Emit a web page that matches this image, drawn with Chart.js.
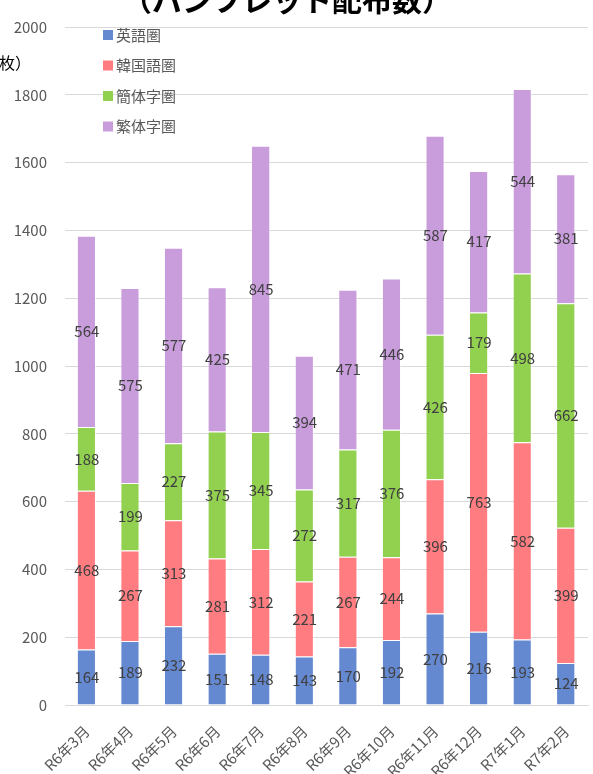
<!DOCTYPE html>
<html lang="ja">
<head>
<meta charset="UTF-8">
<title>パンフレット配布数</title>
<script src="https://cdn.jsdelivr.net/npm/chart.js@4.4.1/dist/chart.umd.min.js"></script>
<style>
  body { margin: 0; background: #fff; }
  #wrap { position: relative; width: 593px; height: 774px; }
</style>
</head>
<body>
<div id="wrap"><canvas id="chart" width="593" height="774"></canvas></div>
<script>
const months = ['R6年3月', 'R6年4月', 'R6年5月', 'R6年6月', 'R6年7月', 'R6年8月',
                'R6年9月', 'R6年10月', 'R6年11月', 'R6年12月', 'R7年1月', 'R7年2月'];
const english     = [164, 189, 232, 151, 148, 143, 170, 192, 270, 216, 193, 124];
const korean      = [468, 267, 313, 281, 312, 221, 267, 244, 396, 763, 582, 399];
const simplified  = [188, 199, 227, 375, 345, 272, 317, 376, 426, 179, 498, 662];
const traditional = [564, 575, 577, 425, 845, 394, 471, 446, 587, 417, 544, 381];
const seriesNames = ['英語圏', '韓国語圏', '簡体字圏', '繁体字圏'];
const colors = ['#6489d0', '#ff7c80', '#92d050', '#c99ddc'];

const FONT = "'Noto Sans CJK JP', 'Noto Sans', sans-serif";

// value labels centred in each segment
const segmentLabels = {
  id: 'segmentLabels',
  afterDatasetsDraw(chart) {
    const ctx = chart.ctx;
    ctx.save();
    ctx.font = '15px ' + FONT;
    ctx.fillStyle = '#404040';
    ctx.textAlign = 'center';
    ctx.textBaseline = 'middle';
    chart.data.datasets.forEach((ds, i) => {
      chart.getDatasetMeta(i).data.forEach((bar, j) => {
        ctx.fillText(ds.data[j], bar.x, (bar.y + bar.base) / 2);
      });
    });
    ctx.restore();
  }
};

// title, unit and legend drawn at fixed spots
const decorations = {
  id: 'decorations',
  afterDraw(chart) {
    const ctx = chart.ctx;
    ctx.save();
    ctx.fillStyle = '#000';
    ctx.font = 'bold 30px ' + FONT;
    ctx.textAlign = 'center';
    ctx.textBaseline = 'alphabetic';
    ctx.fillText('（パンフレット配布数）', 287, 11);

    ctx.font = '16px ' + FONT;
    ctx.textAlign = 'right';
    ctx.textBaseline = 'middle';
    ctx.fillText('（枚）', 31, 63);

    ctx.textAlign = 'left';
    ctx.font = '15px ' + FONT;
    const ys = [35, 65.5, 96, 126.5];
    chart.data.datasets.forEach((ds, i) => {
      ctx.fillStyle = ds.backgroundColor;
      ctx.fillRect(103, ys[i] - 5, 10, 10);
      ctx.fillStyle = '#595959';
      ctx.fillText(ds.label, 116, ys[i]);
    });
    ctx.restore();
  }
};

const seriesData = [english, korean, simplified, traditional];

new Chart(document.getElementById('chart'), {
  type: 'bar',
  data: {
    labels: months,
    datasets: seriesData.map((d, i) => ({
      label: seriesNames[i],
      data: d,
      backgroundColor: colors[i],
      borderColor: 'rgba(255,255,255,0.6)',
      borderWidth: { top: 1, right: 1 },
      borderSkipped: false,
      barPercentage: 0.42,
      categoryPercentage: 1
    }))
  },
  options: {
    responsive: false,
    animation: false,
    layout: { padding: { top: 16, right: 5, left: 0, bottom: 0 } },
    plugins: {
      legend: { display: false },
      tooltip: { enabled: false }
    },
    scales: {
      x: {
        stacked: true,
        grid: { display: false },
        border: { color: '#d9d9d9', width: 1 },
        ticks: {
          color: '#595959',
          font: { size: 15, family: FONT },
          minRotation: 45,
          maxRotation: 45,
          padding: 9
        },
        afterFit(scale) { scale.height = 69; }
      },
      y: {
        stacked: true,
        min: 0,
        max: 2000,
        grid: { color: '#d9d9d9', drawTicks: false },
        border: { display: false },
        ticks: {
          stepSize: 200,
          color: '#595959',
          font: { size: 15, family: FONT },
          padding: 18,
          callback: v => String(v)
        },
        afterFit(scale) { scale.width = 65; }
      }
    }
  },
  plugins: [segmentLabels, decorations]
});
</script>
</body>
</html>
